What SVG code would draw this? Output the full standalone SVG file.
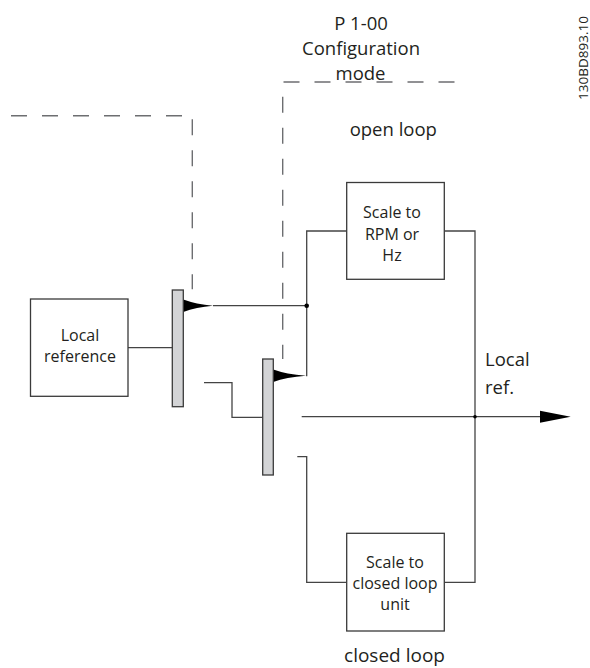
<svg xmlns="http://www.w3.org/2000/svg" width="590" height="668" viewBox="0 0 590 668">
<style>
.box{fill:#fff;stroke:#3a3a3a;stroke-width:1.3}
.bar{fill:#d3d4d6;stroke:#3a3a3a;stroke-width:1.3}
.ln{fill:none;stroke:#444;stroke-width:1.3}
.dash{fill:none;stroke:#6d6e71;stroke-width:1.4;stroke-dasharray:16 15}
.ah{fill:#000}
.t16{font-family:"Open Sans","Liberation Sans",sans-serif;font-size:16px;fill:#231f20;text-anchor:middle}
.t18{font-family:"Open Sans","Liberation Sans",sans-serif;font-size:18.5px;fill:#231f20;text-anchor:middle}
</style>
<rect width="590" height="668" fill="#fff"/>
<g id="connectors">
<path class="dash" d="M283.5,82 H455"/>
<path class="dash" d="M11,115.7 H182"/>
<path class="dash" d="M192.3,119.3 V289.3"/>
<path class="dash" d="M282.7,96.7 V359"/>
<path class="ln" d="M128,347.7 H172.3"/>
<path class="ln" d="M213,305.7 H306.7"/>
<path class="ln" d="M306,375.7 H306.7 V231 H346.7"/>
<path class="ln" d="M204,382.7 H232 V417.3 H262.7"/>
<path class="ln" d="M301.7,416.7 H545" stroke="#111"/>
<path class="ln" d="M297.3,456.7 H306.7 V582.3 H346.7"/>
<path class="ln" d="M444.3,231 H475 V582.3 H444.3"/>
<path class="ah" d="M183.3,299.5 Q196,304.2 213,305.7 Q196,307.2 183.3,312 Z"/>
<path class="ah" d="M273.3,369.5 Q286,374.2 306,375.7 Q286,377.2 273.3,382 Z"/>
<path class="ah" d="M540,410.7 L570.7,416.7 L540,422.7 Z"/>
<circle cx="306.7" cy="305.7" r="2.3" fill="#000"/>
<circle cx="475" cy="416.7" r="1.8" fill="#000"/>
</g>
<g id="local-reference">
<rect class="box" x="30.5" y="299" width="97.5" height="97.3"/>
<text class="t16" x="80" y="341">Local</text>
<text class="t16" x="80" y="362">reference</text>
</g>
<g id="switch1">
<rect class="bar" x="172.3" y="290" width="11" height="116.7"/>
</g>
<g id="switch2">
<rect class="bar" x="262.7" y="359" width="10.6" height="116"/>
</g>
<g id="scale-rpm">
<rect class="box" x="346.7" y="182.5" width="97.6" height="96.8"/>
<text class="t16" x="392" y="218">Scale to</text>
<text class="t16" x="392" y="239.5">RPM or</text>
<text class="t16" x="392" y="260.5">Hz</text>
</g>
<g id="scale-closed">
<rect class="box" x="346.7" y="533.3" width="97.6" height="97.7"/>
<text class="t16" x="395" y="567.5">Scale to</text>
<text class="t16" x="395" y="588.5">closed loop</text>
<text class="t16" x="395" y="609.5">unit</text>
</g>
<g id="labels">
<text class="t18" x="361" y="30">P 1-00</text>
<text class="t18" x="361" y="55">Configuration</text>
<text class="t18" x="360.5" y="79.5">mode</text>
<text class="t18" x="393.3" y="136">open loop</text>
<text class="t18" x="485" y="366" style="text-anchor:start">Local</text>
<text class="t18" x="485" y="394" style="text-anchor:start">ref.</text>
<text class="t18" x="394.5" y="661.5" style="font-size:19px">closed loop</text>
<text x="587.5" y="58" transform="rotate(-90 587.5 58)" style="font-family:'Open Sans','Liberation Sans',sans-serif;font-size:13.5px;fill:#231f20;text-anchor:middle">130BD893.10</text>
</g>
</svg>
